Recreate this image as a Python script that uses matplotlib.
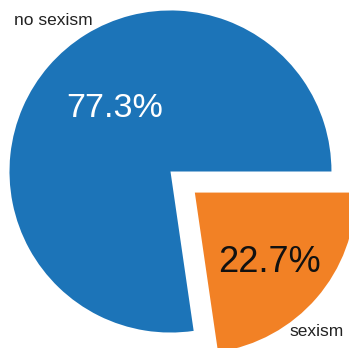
import matplotlib
matplotlib.use("Agg")
import matplotlib.pyplot as plt

labels = ["no sexism", "sexism"]
shares = [77.3, 22.7]
colors = ["#1c74b8", "#f28125"]
explode = [0.0, 0.2]

plt.rcParams["font.family"] = ["Liberation Sans", "DejaVu Sans"]

fig = plt.figure(figsize=(3.49, 3.48), dpi=100)
ax = fig.add_axes([0, 0, 1, 1])

wedges, texts, autotexts = ax.pie(
    shares, labels=labels, colors=colors, explode=explode,
    autopct="%1.1f%%", startangle=0, counterclock=True,
)

ax.set_aspect("auto")
ax.set_xlim(-1.059, 1.109)
ax.set_ylim(-1.096, 1.065)
ax.axis("off")

# category labels
label_pos = [(-0.972, 0.910, "left"), (0.742, -1.022, "left")]
for t, (x, y, ha) in zip(texts, label_pos):
    t.set_position((x, y))
    t.set_ha(ha)
    t.set_va("baseline")
    t.set_fontsize(12.5)
    t.set_color("#222222")

# percentage labels
pct_pos = [(-0.345, 0.339), (0.612, -0.624)]
pct_size = [24.5, 26]
pct_color = ["white", "#111111"]
for t, (x, y), s, c in zip(autotexts, pct_pos, pct_size, pct_color):
    t.set_position((x, y))
    t.set_ha("center")
    t.set_va("baseline")
    t.set_fontsize(s)
    t.set_color(c)

fig.savefig("out.png", dpi=100)
